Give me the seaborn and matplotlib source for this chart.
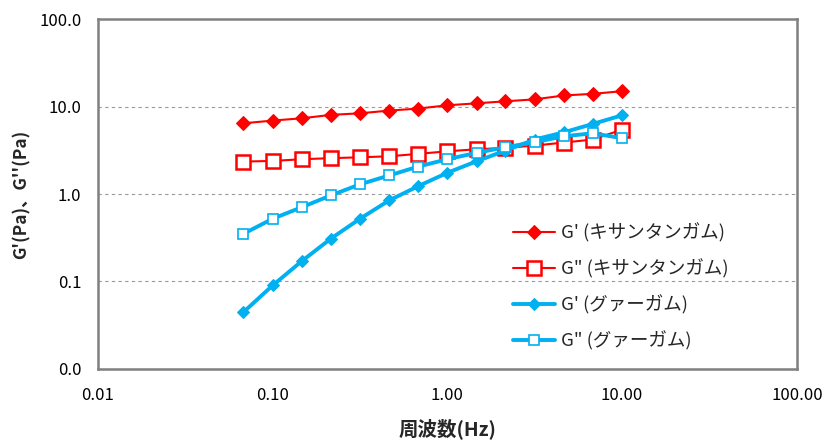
import matplotlib
matplotlib.use('Agg')
import matplotlib.pyplot as plt
import seaborn as sns
from matplotlib.ticker import FuncFormatter, LogLocator, NullFormatter

# data
freq = [0.0681, 0.1, 0.147, 0.215, 0.316, 0.464, 0.681, 1.0, 1.47, 2.15, 3.16, 4.64, 6.81, 10.0]
xg_storage = [6.44, 6.92, 7.35, 8.04, 8.38, 9.0, 9.49, 10.35, 10.9, 11.5, 12.1, 13.4, 14.0, 15.0]
xg_loss = [2.35, 2.39, 2.50, 2.57, 2.63, 2.70, 2.88, 3.08, 3.25, 3.37, 3.58, 3.88, 4.20, 5.46]
gg_storage = [0.0446, 0.090, 0.171, 0.308, 0.521, 0.844, 1.23, 1.75, 2.37, 3.14, 4.20, 5.08, 6.34, 7.95]
gg_loss = [0.351, 0.521, 0.707, 0.962, 1.29, 1.63, 2.06, 2.50, 2.96, 3.43, 3.91, 4.58, 4.95, 4.35]
labels = ["G' (キサンタンガム)", 'G" (キサンタンガム)', "G' (グァーガム)", 'G" (グァーガム)']

sns.set_style('white')
plt.rcParams['font.family'] = ['Noto Sans CJK JP', 'DejaVu Sans']

red = '#FF0000'
blue = '#00B0F0'
grey = '#808080'

fig = plt.figure(figsize=(8.37, 4.46), dpi=100)
ax = fig.add_axes([0.117, 0.173, 0.835, 0.784])

# series styles
styles = [
    dict(color=red, linewidth=1.5, marker='D', markersize=7.5, markerfacecolor=red, markeredgecolor=red),
    dict(color=red, linewidth=1.5, marker='s', markersize=9.5, markerfacecolor='white',
         markeredgecolor=red, markeredgewidth=1.8),
    dict(color=blue, linewidth=2.8, marker='D', markersize=6, markerfacecolor=blue, markeredgecolor=blue),
    dict(color=blue, linewidth=2.8, marker='s', markersize=7.5, markerfacecolor='white',
         markeredgecolor=blue, markeredgewidth=1.2),
]
for vals, lab, st in zip([xg_storage, xg_loss, gg_storage, gg_loss], labels, styles):
    sns.lineplot(x=freq, y=vals, ax=ax, label=lab, **st)

ax.set_xscale('log')
ax.set_yscale('log')
ax.set_xlim(0.01, 100)
ax.set_ylim(0.01, 100)

ax.xaxis.set_major_locator(LogLocator(base=10, numticks=10))
ax.yaxis.set_major_locator(LogLocator(base=10, numticks=10))
ax.xaxis.set_minor_locator(LogLocator(base=10, subs=range(2, 10), numticks=20))
ax.yaxis.set_minor_locator(LogLocator(base=10, subs=range(2, 10), numticks=20))
ax.xaxis.set_major_formatter(FuncFormatter(lambda v, p: f'{v:.2f}'))
ax.yaxis.set_major_formatter(FuncFormatter(lambda v, p: f'{v:.1f}'))
ax.xaxis.set_minor_formatter(NullFormatter())
ax.yaxis.set_minor_formatter(NullFormatter())

ax.tick_params(which='both', direction='in', color=grey, labelsize=12, labelcolor='black')
ax.tick_params(which='major', length=5, width=1)
ax.tick_params(which='minor', length=3, width=0.8)
ax.tick_params(axis='x', pad=13)
ax.tick_params(axis='y', pad=12)

ax.grid(False)
ax.yaxis.grid(True, which='major', color='#999999', linestyle=(0, (3, 3)), linewidth=0.8)

for sp in ax.spines.values():
    sp.set_color(grey)
    sp.set_linewidth(1.8)

ax.set_xlabel('周波数(Hz)', fontsize=14, fontweight='bold', labelpad=10)
ax.set_ylabel("G'(Pa)、G''(Pa)", fontsize=12.5, fontweight='bold', labelpad=6)

ax.legend(loc='upper left', bbox_to_anchor=(0.57, 0.465), frameon=False, fontsize=13.3,
          handlelength=2.3, handletextpad=0.3, labelspacing=0.9)

fig.savefig('out.png', dpi=100)
